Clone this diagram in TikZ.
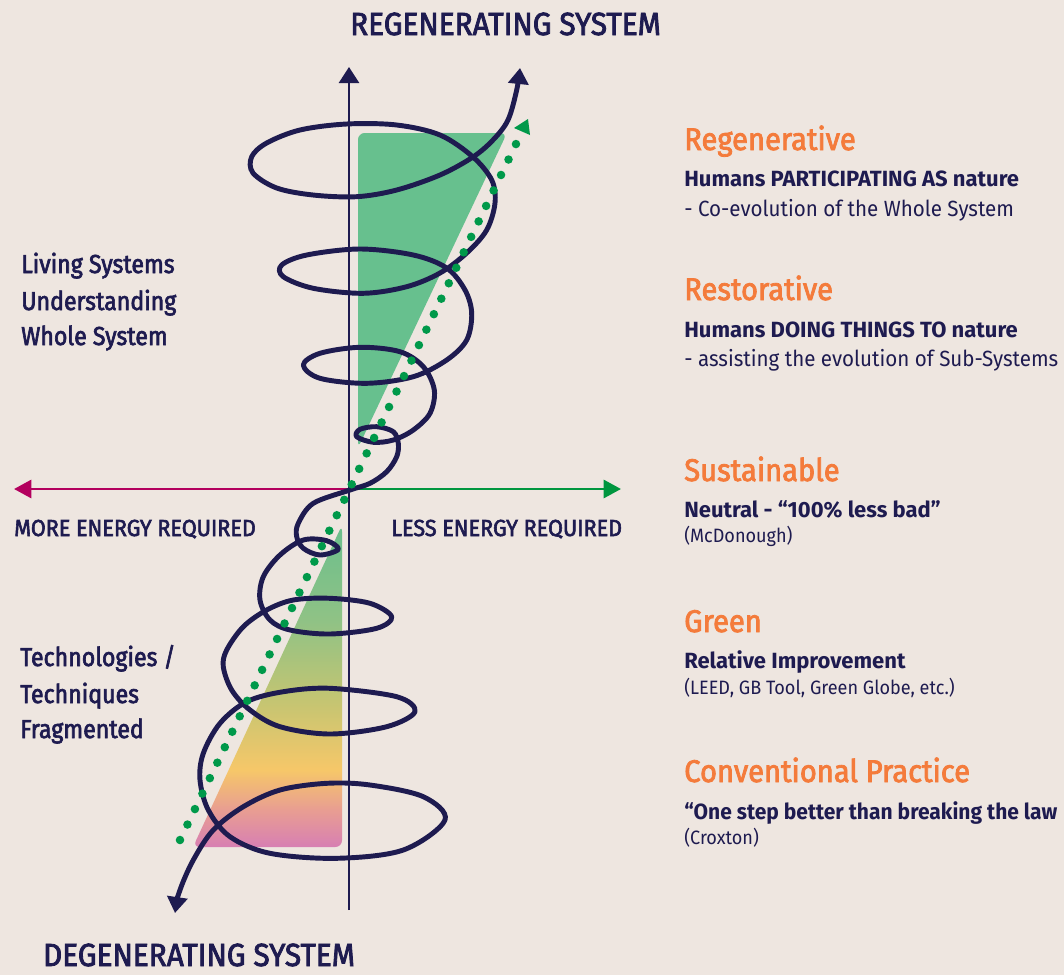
\documentclass[tikz,border=0pt]{standalone}
\usepackage{fontspec}
\setmainfont[FakeStretch=0.935]{Fira Sans}
\newfontfamily\fsub[FakeStretch=1.0]{Fira Sans}
\newfontfamily\fsubn[FakeStretch=0.955]{Fira Sans}
\newfontfamily\fmed[FakeStretch=0.93,FakeBold=2.5]{Fira Sans}
\newfontfamily\fside[FakeStretch=0.89,FakeBold=2.5]{Fira Sans}
\usetikzlibrary{arrows.meta}
\definecolor{bg}{HTML}{EEE6E0}
\definecolor{navy}{HTML}{1E1B50}
\definecolor{orangec}{HTML}{F47B3B}
\definecolor{trigreen}{HTML}{67C08E}
\definecolor{dotgreen}{HTML}{00994A}
\definecolor{magentac}{HTML}{B3005E}
\definecolor{axgreen}{HTML}{00963F}
\definecolor{pinkc}{HTML}{D77FB3}
\definecolor{salmonc}{HTML}{E89D92}
\definecolor{yellowc}{HTML}{F6C769}
\definecolor{olivec}{HTML}{C4C572}
\definecolor{lgreenc}{HTML}{90C285}
\definecolor{topgreen}{HTML}{6ABF8D}
\pgfdeclareverticalshading{lowtri}{100bp}{color(0bp)=(pinkc); color(25bp)=(pinkc); color(30.7bp)=(salmonc); color(37bp)=(yellowc); color(47.8bp)=(olivec); color(60bp)=(lgreenc); color(75bp)=(topgreen); color(100bp)=(topgreen)}
\tikzset{
  axisline/.style={draw=navy, line width=1.9pt},
  spiral/.style={draw=navy, line width=3.7pt, line cap=round, line join=round},
  dotline/.style={draw=dotgreen, line width=6.4pt, line cap=round, dash pattern=on 0pt off 12.88pt},
  lbl/.style={anchor=base west, inner sep=0pt, text=navy},
  head/.style={anchor=base west, inner sep=0pt, text=orangec, font=\fmed\fontsize{23.5pt}{26pt}\selectfont},
  sub/.style={lbl, font=\fsub\bfseries\fontsize{16.5pt}{19pt}\selectfont},
  subn/.style={lbl, font=\fsubn\bfseries\fontsize{16.5pt}{19pt}\selectfont},
  note/.style={lbl, font=\fontsize{16.5pt}{19pt}\selectfont},
  small/.style={lbl, font=\fontsize{14.5pt}{17pt}\selectfont},
  side/.style={lbl, font=\fside\fontsize{19.5pt}{22pt}\selectfont},
  energy/.style={lbl, font=\fmed\fontsize{17.4pt}{20pt}\selectfont},
  title/.style={anchor=base, inner sep=0pt, text=navy, font=\fmed\fontsize{24pt}{27pt}\selectfont},
}
\begin{document}
\begin{tikzpicture}[x=0.75pt, y=-0.75pt]
\fill[bg] (0,0) rectangle (1064,975);
\useasboundingbox (0,0) rectangle (1064,975);

% coordinates
\coordinate (O) at (349,489);
\coordinate (vtop) at (349,67);
\coordinate (vbot) at (349,910);
\coordinate (hl) at (14,489);
\coordinate (hr) at (621,489);
\coordinate (dA) at (180,840);
\coordinate (dB) at (516,144);

% triangles
\fill[trigreen, rounded corners=5] (358,133) -- (507,133) -- (358,448) -- cycle;
\shade[shading=lowtri, rounded corners=5] (342,525) -- (342,847) -- (193,847) -- cycle;

% axes
\draw[axisline, -{Triangle[length=12pt 0, width=15pt 0]}] (vbot) -- (vtop);
\draw[draw=magentac, line width=2.2pt, -{Triangle[length=13pt 0, width=13.5pt 0]}] (O) -- (hl);
\draw[draw=axgreen, line width=2.2pt, -{Triangle[length=13pt 0, width=13.5pt 0]}] (O) -- (hr);

% spiral
\draw[spiral, {Triangle[length=12pt 0, width=15pt 0]}-{Triangle[length=12pt 0, width=15pt 0]}] plot[smooth, tension=0.55] coordinates {
(175,913) (180,890) (193.3,860) (213.3,830) (243.3,806.7) (280,790) (326.7,783.3) (370,785) (423.3,796.7) (445,820) (403.3,850) (336.7,858.3) (270,853.3) (230,836.7) (208.3,810) (200,780) (203.3,753.3) (220,723.3) (246.7,701.7) (283.3,691.7) (330,688.3) (396.7,696.7) (415,711.7) (386.7,726.7) (330,734) (280,726.7) (250,710) (231.7,690) (223.3,666.7) (226.7,650) (243.3,626.7) (266.7,610) (293.3,600) (330,598.3) (370,603.3) (391.7,616.7) (376.7,628.3) (330,634) (290,630) (270,620) (260,600) (263.3,576.7) (280,555) (303.3,540) (326.7,540.7) (338.3,549.3) (320,555) (303.3,548.3) (296.7,536.7) (298.3,523.3) (313.3,503.3) (350,490) (370,483.3) (386.7,471.7) (396.7,456.7) (398.3,443.3) (393.3,431.7) (376.7,426.7) (360,429.3) (356.7,436.7) (373.3,442.3) (393.3,440) (413.3,430) (430,413.3) (434.3,390) (423.3,366.7) (400,351.7) (360,347.3) (320,353.3) (303.3,365) (320,378.3) (366.7,383.3) (413.3,376.7) (446.7,360) (466.7,340) (471.7,313.3) (465,290) (446.7,268) (413.3,255) (360,249) (306.7,255) (281.7,265) (283.3,276.7) (313.3,288.3) (363.3,293.3) (406.7,286.7) (440,273) (466.7,253) (486.7,230) (495,203) (491.7,180) (473,157) (440,135) (396.7,125) (346.7,124) (300,130) (266.7,143) (251.7,156.7) (253,173) (276.7,188) (313,195) (356.7,196.7) (396.7,190) (440,175) (473,157) (493,140) (508,120) (516.7,90) (520,68)};

% dotted diagonal
\draw[dotline] (dA) -- (dB);
\fill[dotgreen] (528,119) -- (530,135) -- (514,128) -- cycle;

% titles
\node[title] (reg) at (505.5,35) {REGENERATING SYSTEM};
\node[title] (deg) at (199,966) {DEGENERATING SYSTEM};

% energy labels
\node[energy] (more) at (14,536) {MORE ENERGY REQUIRED};
\node[energy] (less) at (391,536) {LESS ENERGY REQUIRED};

% side labels
\node[side] (ls1) at (21,273) {Living Systems};
\node[side] (ls2) at (21,310) {Understanding};
\node[side] (ls3) at (21,345) {Whole System};
\node[side] (tt1) at (20,666) {Technologies /};
\node[side] (tt2) at (20,703) {Techniques};
\node[side] (tt3) at (20,738) {Fragmented};

% right legend
\node[head] (h1) at (684,150) {Regenerative};
\node[sub] (s1) at (684,186) {Humans PARTICIPATING AS nature};
\node[note] (n1) at (684,216) {- Co-evolution of the Whole System};
\node[head] (h2) at (684,300) {Restorative};
\node[sub] (s2) at (684,337) {Humans DOING THINGS TO nature};
\node[note] (n2) at (684,366) {- assisting the evolution of Sub-Systems};
\node[head] (h3) at (684,481) {Sustainable};
\node[sub] (s3) at (684,517) {Neutral - “100\% less bad”};
\node[small] (n3) at (684,542) {(McDonough)};
\node[head] (h4) at (684,632) {Green};
\node[sub] (s4) at (684,668) {Relative Improvement};
\node[small] (n4) at (684,694) {(LEED, GB Tool, Green Globe, etc.)};
\node[head] (h5) at (684,782) {Conventional Practice};
\node[subn] (s5) at (684,819) {“One step better than breaking the law};
\node[small] (n5) at (684,844) {(Croxton)};
\end{tikzpicture}
\end{document}
